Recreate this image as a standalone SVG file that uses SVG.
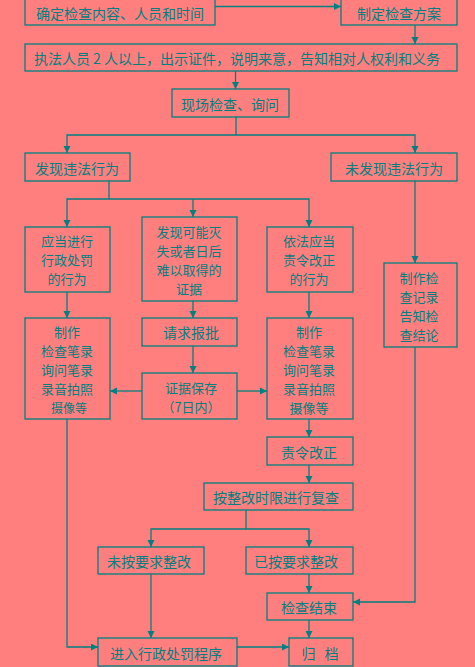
<svg xmlns="http://www.w3.org/2000/svg" width="475" height="667" viewBox="0 0 475 667">
<defs>
<marker id="ah" markerUnits="userSpaceOnUse" markerWidth="8" markerHeight="8" refX="7" refY="3.5" orient="auto">
<path d="M0,0 L7,3.5 L0,7 z" fill="#008080"/>
</marker>
<style>
.b{fill:none;stroke:#008080;stroke-width:1.3}
.t{font-family:"Noto Sans CJK SC","Noto Sans",sans-serif;font-size:14px;fill:#008080;text-anchor:middle;dominant-baseline:central}
.m{font-size:13px}
.c{fill:none;stroke:#008080;stroke-width:1.3;marker-end:url(#ah)}
</style>
</defs>
<rect width="475" height="667" fill="#FF7F7F"/>
<g id="connectors">
<path class="c" d="M215,6.5 H341"/>
<path class="c" d="M415,25 V44"/>
<path class="c" d="M235.5,71 V89"/>
<path class="c" d="M236,117 V135 H67 V153"/>
<path class="c" d="M236,135 H415 V153"/>
<path class="c" d="M109,181 V199 H67 V227"/>
<path class="c" d="M109,199 H309 V227"/>
<path class="c" d="M193,199 V217"/>
<path class="c" d="M415,181 V263"/>
<path class="c" d="M67,292 V318"/>
<path class="c" d="M193,301 V318"/>
<path class="c" d="M309,292 V318"/>
<path class="c" d="M193,346 V373"/>
<path class="c" d="M142,391 H110"/>
<path class="c" d="M237,391 H267"/>
<path class="c" d="M309,419 V437"/>
<path class="c" d="M309,465 V483"/>
<path class="c" d="M246,510 V529 H151 V547"/>
<path class="c" d="M246,529 H309 V547"/>
<path class="c" d="M309,574 V593"/>
<path class="c" d="M309,620 V638"/>
<path class="c" d="M151,574 V638"/>
<path class="c" d="M415,347 V602 H353"/>
<path class="c" d="M67,419 V647 H98"/>
<path class="c" d="M237,647 H289"/>
</g>
<g id="n1"><rect class="b" x="25" y="-2" width="190" height="27"/><text class="t" x="120" y="13">确定检查内容、人员和时间</text></g>
<g id="n2"><rect class="b" x="341" y="-2" width="116" height="27"/><text class="t" x="399" y="13">制定检查方案</text></g>
<g id="n3"><rect class="b" x="25" y="44" width="432" height="27"/><text class="t" x="237" y="58">执法人员 2 人以上，出示证件，说明来意，告知相对人权利和义务</text></g>
<g id="n4"><rect class="b" x="172" y="89" width="117" height="28"/><text class="t" x="230" y="104">现场检查、询问</text></g>
<g id="n5"><rect class="b" x="25" y="153" width="105" height="28"/><text class="t" x="77" y="168">发现违法行为</text></g>
<g id="n6"><rect class="b" x="331" y="153" width="126" height="28"/><text class="t" x="394" y="168">未发现违法行为</text></g>
<g id="n7"><rect class="b" x="25" y="227" width="85" height="65"/><text class="t m" x="67" y="240">应当进行</text><text class="t m" x="67" y="259">行政处罚</text><text class="t m" x="67" y="278">的行为</text></g>
<g id="n8"><rect class="b" x="142" y="217" width="95" height="84"/><text class="t m" x="189" y="231">发现可能灭</text><text class="t m" x="189" y="250">失或者日后</text><text class="t m" x="189" y="269">难以取得的</text><text class="t m" x="189" y="288">证据</text></g>
<g id="n9"><rect class="b" x="267" y="227" width="86" height="65"/><text class="t m" x="309" y="240">依法应当</text><text class="t m" x="309" y="259">责令改正</text><text class="t m" x="309" y="278">的行为</text></g>
<g id="n10"><rect class="b" x="384" y="263" width="73" height="84"/><text class="t m" x="419" y="277">制作检</text><text class="t m" x="419" y="296">查记录</text><text class="t m" x="419" y="315">告知检</text><text class="t m" x="419" y="334">查结论</text></g>
<g id="n11"><rect class="b" x="25" y="318" width="85" height="101"/><text class="t m" x="67" y="331">制作</text><text class="t m" x="67" y="350">检查笔录</text><text class="t m" x="67" y="369">询问笔录</text><text class="t m" x="67" y="388">录音拍照</text><text class="t" x="69" y="407" style="font-size:12px">摄像等</text></g>
<g id="n12"><rect class="b" x="142" y="318" width="95" height="28"/><text class="t" x="191" y="332">请求报批</text></g>
<g id="n13"><rect class="b" x="142" y="373" width="95" height="46"/><text class="t m" x="191" y="387">证据保存</text><text class="t m" x="191" y="406">（7日内）</text></g>
<g id="n14"><rect class="b" x="267" y="318" width="86" height="101"/><text class="t m" x="309" y="331">制作</text><text class="t m" x="309" y="350">检查笔录</text><text class="t m" x="309" y="369">询问笔录</text><text class="t m" x="309" y="388">录音拍照</text><text class="t m" x="309" y="407">摄像等</text></g>
<g id="n15"><rect class="b" x="267" y="437" width="86" height="28"/><text class="t" x="309" y="452">责令改正</text></g>
<g id="n16"><rect class="b" x="204" y="483" width="149" height="27"/><text class="t" x="276" y="497">按整改时限进行复查</text></g>
<g id="n17"><rect class="b" x="98" y="547" width="106" height="27"/><text class="t" x="149" y="561">未按要求整改</text></g>
<g id="n18"><rect class="b" x="246" y="547" width="107" height="27"/><text class="t" x="296" y="561">已按要求整改</text></g>
<g id="n19"><rect class="b" x="267" y="593" width="86" height="27"/><text class="t" x="309" y="607">检查结束</text></g>
<g id="n20"><rect class="b" x="98" y="638" width="139" height="28"/><text class="t" x="166" y="653">进入行政处罚程序</text></g>
<g id="n21"><rect class="b" x="289" y="638" width="64" height="28"/><text class="t" x="320" y="653" style="word-spacing:6px">归 档</text></g>
</svg>
